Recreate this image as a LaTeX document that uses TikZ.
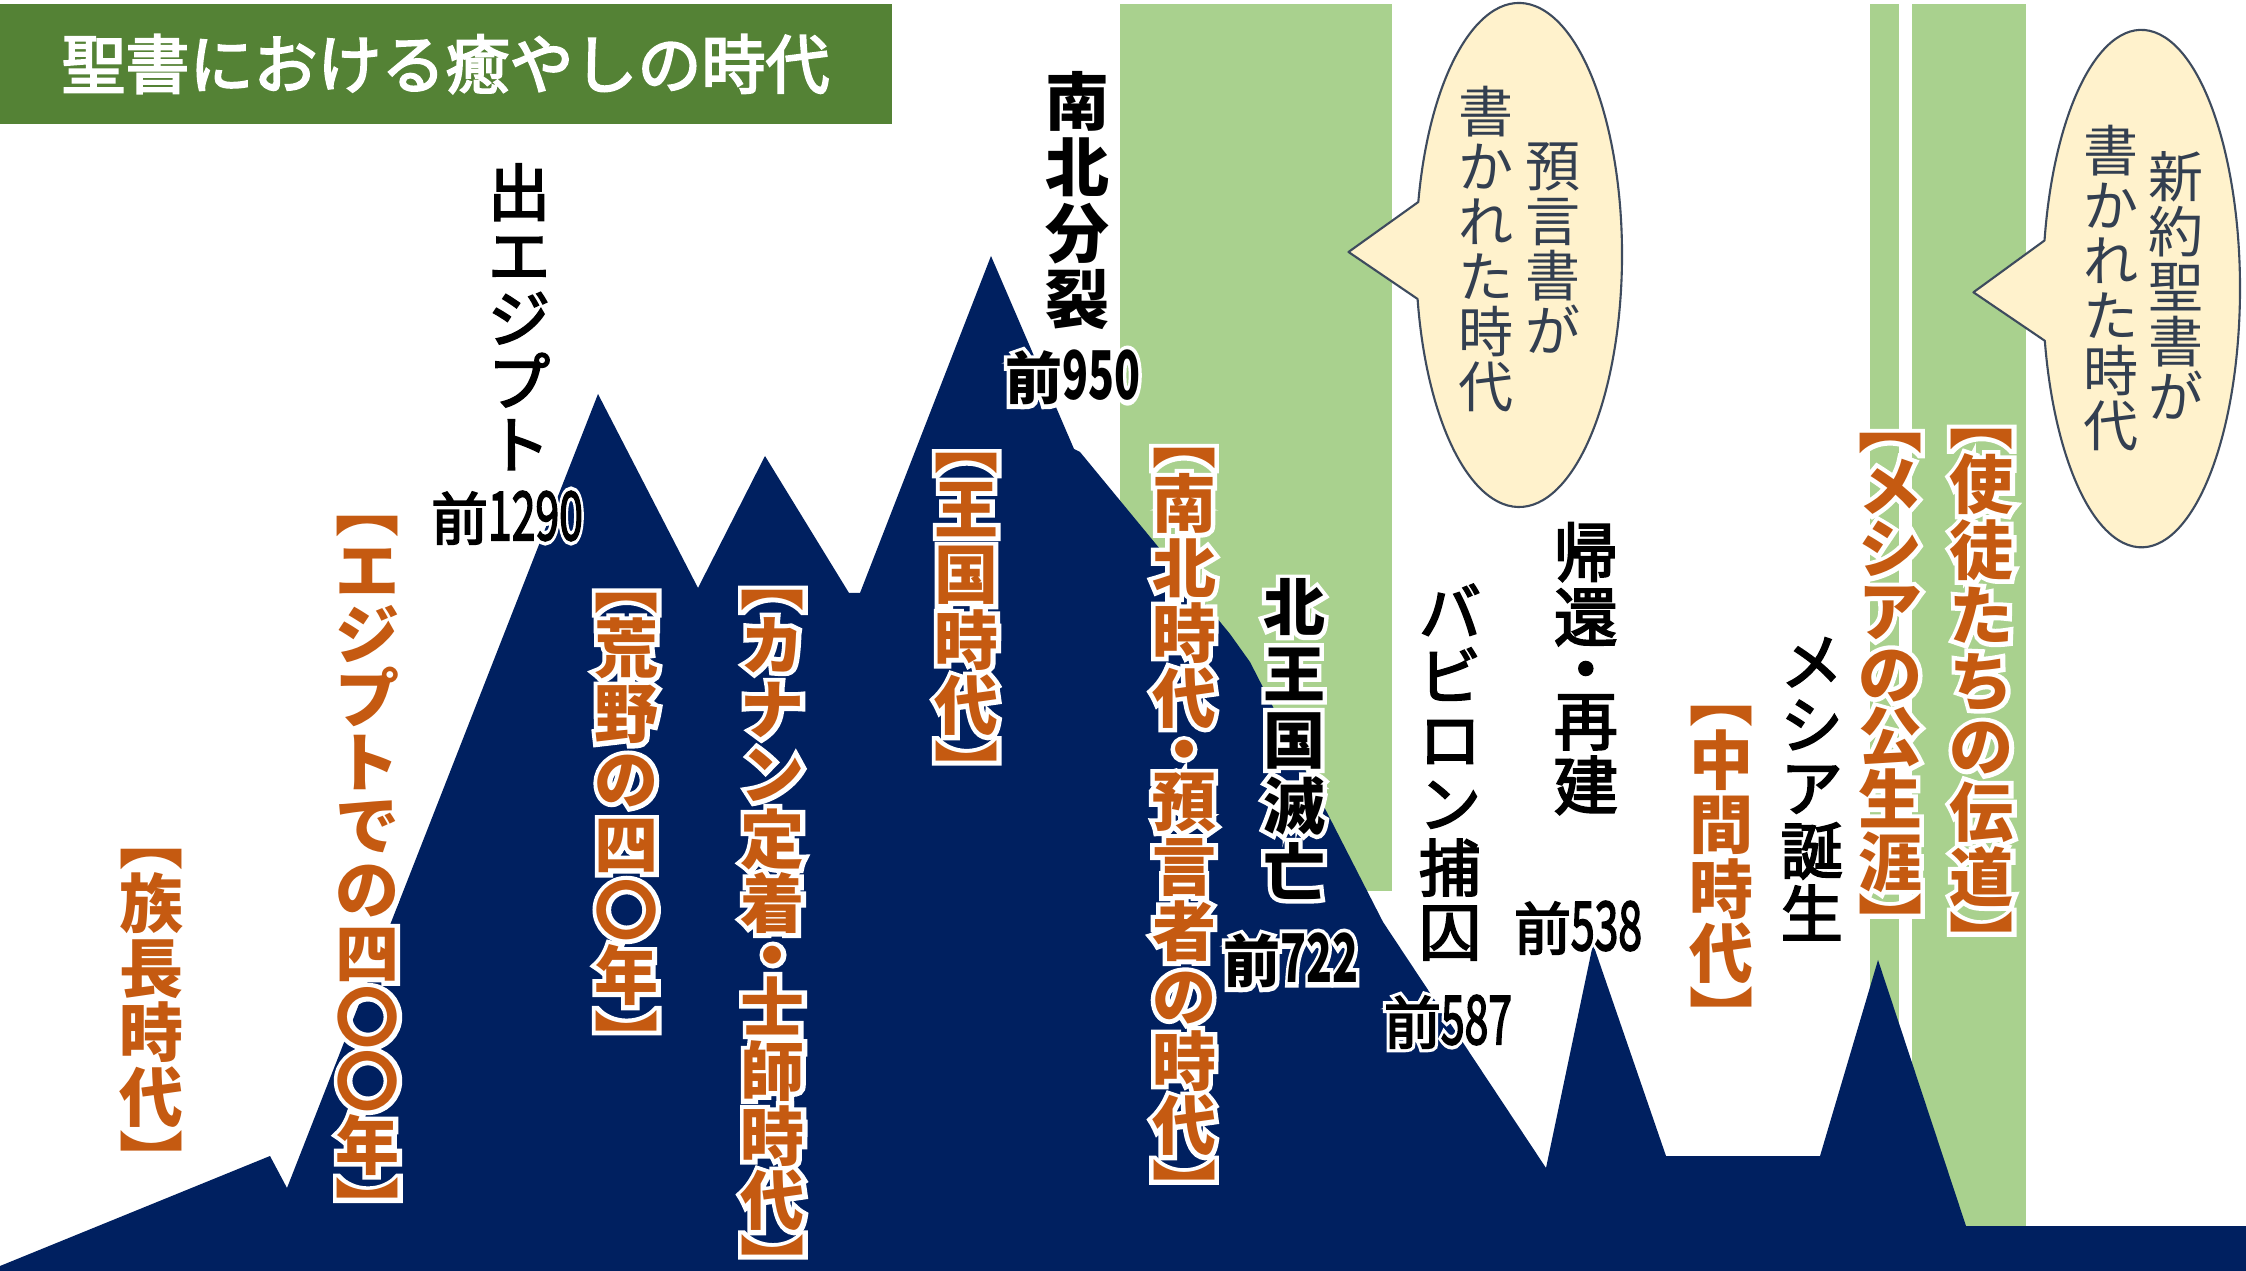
\documentclass[tikz,border=0pt]{standalone}
\usepackage{fontspec}
\usepackage{graphicx}
\setmainfont{Noto Sans CJK JP}
\newfontfamily\jpmed{Noto Sans CJK JP}[FakeBold=3]
\newfontfamily\halofam{Noto Sans CJK JP}[FakeBold=14]
\definecolor{navy}{HTML}{002060}
\definecolor{orng}{HTML}{C55A11}
\definecolor{bandg}{HTML}{A9D18E}
\definecolor{titleg}{HTML}{548235}
\definecolor{bubf}{HTML}{FFF2CC}
\definecolor{bubd}{HTML}{3E4B5E}
\definecolor{bubt}{HTML}{333F50}
\newdimen\pxu \pxu=0.28453pt
\newdimen\vp \newdimen\vh \newdimen\vd
\makeatletter
\def\vt@chars#1{\ifx#1\relax\else\vt@cell#1\expandafter\vt@chars\fi}
\def\vt@cell#1{\vh=.5\vp \vd=.5\vp
  \ifx#1・\vh=.3\vp \vd=.3\vp\fi
  \ifx#1︻\vh=0pt\fi
  \ifx#1︼\vd=0pt\fi
  \hbox to 1em{\hss\raisebox{-.38em}[0pt][0pt]{#1}\hss\vrule width 0pt height\vh depth\vd}}
\newcommand\vtext[2]{\vp=#1\pxu\vbox{\offinterlineskip\vt@chars#2\relax}}
\makeatother
% white halo: an emboldened white copy behind the text
\newcommand\hl[1]{\rlap{\color{white}\halofam #1}#1}
\newcommand\dg[1]{\scalebox{0.75}[1.18]{#1}}
\tikzset{
  olab/.style={text=orng, inner sep=0pt, font=\fontsize{18.21pt}{18.21pt}\selectfont\bfseries},
  blab/.style={text=black, inner sep=0pt, font=\fontsize{17.64pt}{17.64pt}\selectfont\jpmed},
  bblab/.style={text=black, inner sep=0pt, font=\fontsize{17.64pt}{17.64pt}\selectfont\bfseries},
  nlab/.style={text=black, inner sep=0pt, anchor=base, font=\fontsize{16.2pt}{16.2pt}\selectfont\jpmed},
  nblab/.style={nlab, font=\fontsize{16.2pt}{16.2pt}\selectfont\bfseries},
  qlab/.style={text=bubt, inner sep=0pt, font=\fontsize{15.65pt}{15.65pt}\selectfont},
  bubble/.style={fill=bubf, draw=bubd, line width=0.6pt, line join=round},
  band/.style={fill=bandg, draw=none},
}
\begin{document}
\begin{tikzpicture}[x=0.01cm, y=-0.01cm]
\useasboundingbox (0,0) rectangle (2246,1271);
\fill[white] (0,0) rectangle (2246,1271);
% green bands
\fill[band] (1120,4) rectangle (1392,891);
\fill[band] (1870,4) rectangle (1899,1271);
\fill[band] (1912,4) rectangle (2026,1230);
% speech bubbles
\draw[bubble] (1417.6,299) -- (1348.5,252) -- (1418.3,202)
  arc[start angle=192.14, end angle=529.94, x radius=103, y radius=252] -- cycle;
\draw[bubble] (2044.8,340.8) -- (1973.4,292.3) -- (2044.5,240.5)
  arc[start angle=190.72, end angle=528.36, x radius=98.6, y radius=258.7] -- cycle;
% mountains
\fill[navy] (0,1266) -- (270,1156) -- (287,1188) -- (598,394) -- (698,588) -- (765,456)
  -- (849,593) -- (860,593) -- (991,256) -- (1074,449) -- (1080,452) -- (1230,634)
  -- (1250,662) -- (1383,922) -- (1546,1168) -- (1593,944) -- (1666,1156) -- (1820,1156)
  -- (1878,960) -- (1966,1226) -- (2246,1226) -- (2246,1271) -- (0,1271) -- cycle;
% title
\fill[titleg] (0,4) rectangle (892,124);
\node[text=white, inner sep=0pt, font=\fontsize{18.2pt}{18.2pt}\selectfont\jpmed] (title) at (445.5,64) {聖書における癒やしの時代};
% bubble texts
\node[qlab] (q1a) at (1553,247.8) {\vtext{55}{預言書が}};
\node[qlab] (q1b) at (1485.7,248.8) {\vtext{55}{書かれた時代}};
\node[qlab] (q2a) at (2176,287) {\vtext{55}{新約聖書が}};
\node[qlab] (q2b) at (2110.5,288) {\vtext{55}{書かれた時代}};
% orange era labels
\node[olab] (e1) at (152,1000.3) {\hl{\vtext{64.4}{︻族長時代︼}}};
\node[olab] (e2) at (368,857.5) {\hl{\vtext{63.8}{︻エジプトでの四〇〇年︼}}};
\node[olab] (e3) at (626.7,811.8) {\hl{\vtext{65.4}{︻荒野の四〇年︼}}};
\node[olab] (e4) at (773,922.7) {\hl{\vtext{64.6}{︻カナン定着・士師時代︼}}};
\node[olab] (e5) at (966.7,607.3) {\hl{\vtext{65.5}{︻王国時代︼}}};
\node[olab] (e6) at (1184,814.4) {\hl{\vtext{64.8}{︻南北時代・預言者の時代︼}}};
\node[olab] (e7) at (1721.7,856.8) {\hl{\vtext{64.3}{︻中間時代︼}}};
\node[olab] (e8) at (1890,673.9) {\hl{\vtext{62.6}{︻メシアの公生涯︼}}};
\node[olab] (e9) at (1981.7,680.8) {\hl{\vtext{65.4}{︻使徒たちの伝道︼}}};
% black event labels
\node[blab] (v1) at (519,318.2) {\vtext{63}{出エジプト}};
\node[bblab, font=\fontsize{18.21pt}{18.21pt}\selectfont\bfseries] (v2) at (1077.5,200) {\vtext{66}{南北分裂}};
\node[bblab] (v3) at (1294,739.5) {\hl{\vtext{66}{北王国滅亡}}};
\node[blab] (v4) at (1450,771.5) {\vtext{64}{バビロン捕囚}};
\node[blab, font=\fontsize{18.21pt}{18.21pt}\selectfont\jpmed] (v5) at (1585.8,668.5) {\vtext{64.7}{帰還・再建}};
\node[blab] (v6) at (1811.7,787.4) {\vtext{63}{メシア誕生}};
% dates
\node[nlab] (d1) at (507,540) {\hl{前\dg{1290}}};
\node[nblab] (d2) at (1073,400) {\hl{前\dg{950}}};
\node[nblab] (d3) at (1291,983) {\hl{前\dg{722}}};
\node[nlab] (d4) at (1448,1044) {\hl{前\dg{587}}};
\node[nlab] (d5) at (1578,950) {\hl{前\dg{538}}};
\end{tikzpicture}
\end{document}
